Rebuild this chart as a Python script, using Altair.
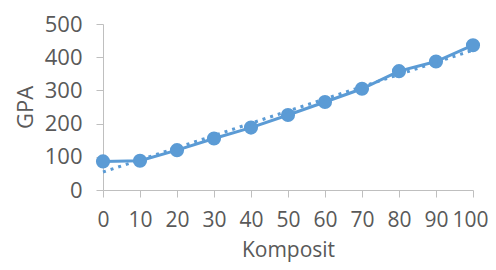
import altair as alt
import pandas as pd

komposit = [0, 10, 20, 30, 40, 50, 60, 70, 80, 90, 100]
gpa = [86, 88, 120, 155, 188, 226, 265, 305, 358, 387, 436]

df = pd.DataFrame({"Komposit": komposit, "GPA": gpa})

blue = "#5B9BD5"
txt = "#595959"
axc = "#BFBFBF"
fs = 22

x = alt.X("Komposit:Q", title="Komposit",
          scale=alt.Scale(domain=[0, 100], nice=False, zero=False),
          axis=alt.Axis(values=komposit, grid=False, domainColor=axc, tickColor=axc,
                        tickSize=7, labelPadding=12, labelFontSize=21, labelColor=txt,
                        labelFont="Open Sans", titleFont="Open Sans", titleFontSize=21,
                        titleColor=txt, titleFontWeight="normal", titlePadding=9,
                        labelOffset=alt.ExprRef("datum.value == 100 ? -3 : 0"),
                        labelFlush=False))
y = alt.Y("GPA:Q", title="GPA",
          scale=alt.Scale(domain=[0, 500], nice=False),
          axis=alt.Axis(values=[0, 100, 200, 300, 400, 500], grid=False, domainColor=axc,
                        tickColor=axc, tickSize=7, labelPadding=14, labelFontSize=fs,
                        labelColor=txt, labelFont="Open Sans", titleFont="Open Sans",
                        titleFontSize=fs, titleColor=txt, titleFontWeight="normal",
                        titlePadding=7))

base = alt.Chart(df)
line = base.mark_line(color=blue, strokeWidth=3).encode(x=x, y=y)
pts = base.mark_point(color=blue, filled=True, opacity=1, size=200).encode(x=x, y=y)
trend = base.transform_regression("Komposit", "GPA", method="linear", extent=[0, 100]).mark_line(
    color=blue, strokeWidth=3, strokeDash=[3, 5]).encode(x=x, y=y)

chart = alt.layer(line, pts, trend).properties(
    width=370, height=166,
    autosize=alt.AutoSizeParams(type="none"),
    padding={"left": 95, "top": 16, "right": 15, "bottom": 72},
).configure_view(stroke=None)

chart.save("out.html", embed_options={"renderer": "svg", "actions": False})
